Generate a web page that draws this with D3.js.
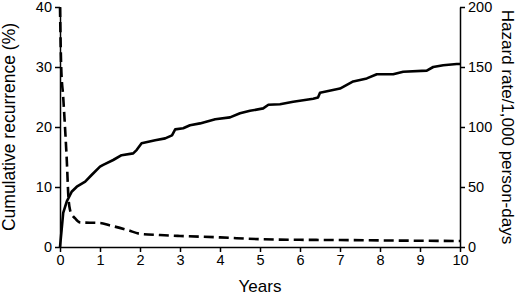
<!DOCTYPE html>
<html>
<head>
<meta charset="utf-8">
<script src="https://cdn.jsdelivr.net/npm/d3@7"></script>
<style>
  body { margin: 0; background: #fff; }
  svg { display: block; font-family: "Liberation Sans", Arial, Helvetica, sans-serif; }
</style>
</head>
<body>
<svg id="chart"></svg>
<script>
// Cumulative recurrence (%) over time, left axis
const recurrenceYears = [0, 0.04, 0.08, 0.17, 0.29, 0.42, 0.63, 0.79, 1.0, 1.08, 1.33, 1.54, 1.83, 1.92, 2.04, 2.38, 2.63, 2.8, 2.88, 3.08, 3.25, 3.5, 3.88, 4.25, 4.5, 4.75, 5.08, 5.21, 5.5, 5.83, 6.33, 6.45, 6.5, 7.0, 7.33, 7.67, 7.92, 8.33, 8.58, 9.17, 9.33, 9.58, 9.92, 10];
const recurrencePct = [0, 2.8, 5.7, 7.6, 9.2, 10.05, 10.9, 12.0, 13.4, 13.7, 14.5, 15.3, 15.6, 16.2, 17.3, 17.8, 18.1, 18.6, 19.6, 19.8, 20.3, 20.6, 21.3, 21.6, 22.3, 22.7, 23.1, 23.7, 23.8, 24.2, 24.7, 24.9, 25.7, 26.4, 27.6, 28.1, 28.8, 28.8, 29.2, 29.4, 30.0, 30.3, 30.5, 30.5];

// Hazard rate per 1,000 person-days, right axis
const hazardYears = [0, 0.03, 0.08, 0.125, 0.17, 0.21, 0.25, 0.3, 0.375, 0.5, 1.0, 1.25, 1.7, 2.0, 2.5, 3, 4, 5, 6, 7, 8, 9, 10];
const hazardRate = [200, 150, 125, 100, 72, 42, 31, 27, 24, 20.5, 20, 18, 14, 11, 10, 9.2, 8, 6.5, 6, 5.8, 5.5, 5.2, 5];

const xTicks = [0, 1, 2, 3, 4, 5, 6, 7, 8, 9, 10];
const leftTicks = [0, 10, 20, 30, 40];
const rightTicks = [0, 50, 100, 150, 200];

const width = 520,
  height = 299,
  margin = { top: 7, right: 60, bottom: 52, left: 60 };

const svg = d3.select("#chart").attr("width", width).attr("height", height);

const x = d3.scaleLinear().domain([0, 10]).range([margin.left, width - margin.right]);
const yLeft = d3.scaleLinear().domain([0, 40]).range([height - margin.bottom, margin.top]);
const yRight = d3.scaleLinear().domain([0, 200]).range([height - margin.bottom, margin.top]);

function styleAxis(g) {
  g.selectAll("path, line").attr("stroke", "#000").attr("stroke-width", 1.5);
  g.selectAll("text").attr("fill", "#000").style("font-size", "14.5px");
}

// axes
svg.append("g")
  .attr("transform", `translate(0,${height - margin.bottom})`)
  .call(d3.axisBottom(x).tickValues(xTicks).tickSize(5).tickSizeOuter(0).tickPadding(3))
  .call(styleAxis);

svg.append("g")
  .attr("transform", `translate(${margin.left},0)`)
  .call(d3.axisLeft(yLeft).tickValues(leftTicks).tickSize(5).tickSizeOuter(0).tickPadding(3))
  .call(styleAxis);

svg.append("g")
  .attr("transform", `translate(${width - margin.right},0)`)
  .call(d3.axisRight(yRight).tickValues(rightTicks).tickSize(5).tickSizeOuter(0).tickPadding(3))
  .call(styleAxis);

// lines
const recurrence = recurrenceYears.map((t, i) => ({ t, v: recurrencePct[i] }));
const hazard = hazardYears.map((t, i) => ({ t, v: hazardRate[i] }));

svg.append("path")
  .datum(hazard)
  .attr("fill", "none")
  .attr("stroke", "#000")
  .attr("stroke-width", 2.6)
  .attr("stroke-dasharray", "10,5")
  .attr("d", d3.line().x((d) => x(d.t)).y((d) => yRight(d.v)).curve(d3.curveMonotoneX));

svg.append("path")
  .datum(recurrence)
  .attr("fill", "none")
  .attr("stroke", "#000")
  .attr("stroke-width", 2.6)
  .attr("stroke-linejoin", "round")
  .attr("d", d3.line().x((d) => x(d.t)).y((d) => yLeft(d.v)));

// axis titles
svg.append("text")
  .attr("transform", `translate(15,${(margin.top + height - margin.bottom) / 2}) rotate(-90)`)
  .attr("text-anchor", "middle")
  .style("font-size", "17.5px")
  .attr("fill", "#000")
  .text("Cumulative recurrence (%)");

svg.append("text")
  .attr("transform", `translate(502,${(margin.top + height - margin.bottom) / 2}) rotate(90)`)
  .attr("text-anchor", "middle")
  .style("font-size", "17px")
  .attr("fill", "#000")
  .text("Hazard rate/1,000 person-days");

svg.append("text")
  .attr("x", (margin.left + width - margin.right) / 2)
  .attr("y", 292)
  .attr("text-anchor", "middle")
  .style("font-size", "17px")
  .attr("fill", "#000")
  .text("Years");
</script>
</body>
</html>
